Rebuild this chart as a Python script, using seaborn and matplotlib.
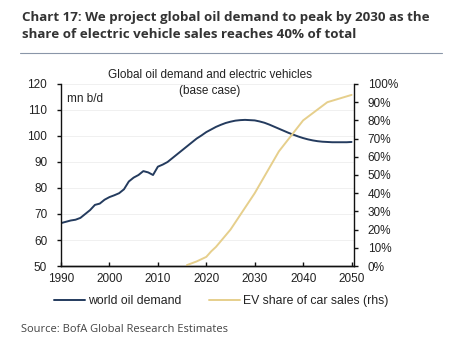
import matplotlib
matplotlib.use("Agg")
import matplotlib.pyplot as plt
import seaborn as sns
import pandas as pd

# world oil demand, mn b/d (1990-2050, yearly)
oil_years = list(range(1990, 2051))
oil_demand = [
    66.5, 67.0, 67.5, 67.8, 68.5, 70.0, 71.5, 73.5, 74.0, 75.5,
    76.5, 77.2, 78.0, 79.5, 82.5, 84.0, 85.0, 86.5, 86.0, 85.0,
    88.2, 89.0, 90.0, 91.5, 93.0, 94.5, 96.0, 97.5, 99.0, 100.2,
    101.5, 102.5, 103.5, 104.3, 105.0, 105.5, 105.9, 106.1, 106.2, 106.1,
    106.0, 105.6, 105.1, 104.4, 103.6, 102.8, 102.0, 101.2, 100.5, 99.8,
    99.2, 98.7, 98.3, 98.0, 97.8, 97.7, 97.6, 97.6, 97.6, 97.6, 97.7,
]

# EV share of car sales, %
ev_years = [2016, 2018, 2020, 2021, 2022, 2025, 2030, 2035, 2040, 2045, 2050]
ev_share = [0.5, 2.5, 5.0, 8.0, 10.5, 20.0, 40.0, 63.0, 80.0, 90.0, 94.0]

x_ticks = [1990, 2000, 2010, 2020, 2030, 2040, 2050]
left_ticks = [50, 60, 70, 80, 90, 100, 110, 120]
right_ticks = [0, 10, 20, 30, 40, 50, 60, 70, 80, 90, 100]

oil_df = pd.DataFrame({"year": oil_years, "demand": oil_demand})
ev_df = pd.DataFrame({"year": ev_years, "share": ev_share})

sns.set_theme(style="white")
plt.rcParams["font.family"] = ["Liberation Sans", "DejaVu Sans"]

navy = "#243b5e"
sand = "#e6cf8c"
text_col = "#222222"

fig = plt.figure(figsize=(4.5, 3.55), dpi=100)
ax = fig.add_axes([0.1356, 0.2507, 0.651, 0.5127])
ax2 = ax.twinx()

sns.lineplot(data=oil_df, x="year", y="demand", ax=ax, color=navy, lw=1.4,
             label="world oil demand", legend=False)
sns.lineplot(data=ev_df, x="year", y="share", ax=ax2, color=sand, lw=1.4,
             label="EV share of car sales (rhs)", legend=False)

ax.set_xlim(1990, 2050.5)
ax.set_ylim(50, 120)
ax2.set_ylim(0, 100)
ax.set_xticks(x_ticks)
ax.set_yticks(left_ticks)
ax2.set_yticks(right_ticks)
ax2.set_yticklabels([f"{v}%" for v in right_ticks])
ax.set_xlabel("")
ax.set_ylabel("")
ax2.set_ylabel("")

for a in (ax, ax2):
    a.spines["top"].set_visible(False)
    for s in ("left", "right", "bottom"):
        a.spines[s].set_color("#111111")
        a.spines[s].set_linewidth(1.0)
ax.spines["right"].set_visible(False)
ax2.spines["left"].set_visible(False)

ax.grid(axis="y", color="#f0f0f0", lw=0.7)
ax.tick_params(axis="y", direction="out", length=3, width=1, pad=7,
               labelsize=8.5, colors="#111111", labelcolor=text_col, left=True)
ax.tick_params(axis="x", direction="in", length=3, width=1, pad=5,
               labelsize=8.5, colors="#111111", labelcolor=text_col, bottom=True)
ax2.tick_params(axis="y", direction="out", length=3, width=1, pad=7,
                labelsize=8.5, colors="#111111", labelcolor=text_col, right=True)

ax.text(0.02, 0.92, "mn b/d", transform=ax.transAxes, fontsize=8.5,
        color=text_col, va="center", ha="left")
fig.text(210 / 450, 1 - 75 / 355, "Global oil demand and electric vehicles",
         fontsize=8.5, color=text_col, ha="center", va="center")
fig.text(210 / 450, 1 - 91 / 355, "(base case)",
         fontsize=8.5, color=text_col, ha="center", va="center")

h1, l1 = ax.get_legend_handles_labels()
h2, l2 = ax2.get_legend_handles_labels()
fig.legend(h1 + h2, l1 + l2, loc="center", bbox_to_anchor=(221 / 450, 1 - 301 / 355),
           ncol=2, frameon=False, fontsize=8.8, handlelength=2.5,
           handletextpad=0.25, columnspacing=2.3, labelcolor=text_col)

title_kw = dict(fontsize=9.6, fontweight="bold", family="Open Sans",
                color="#333333", ha="left", va="center")
fig.text(22 / 450, 1 - 17 / 355,
         "Chart 17: We project global oil demand to peak by 2030 as the", **title_kw)
fig.text(22 / 450, 1 - 35 / 355,
         "share of electric vehicle sales reaches 40% of total", **title_kw)
fig.add_artist(plt.Line2D([20 / 450, 442 / 450], [1 - 53 / 355, 1 - 53 / 355],
                          color="#8a96a8", lw=0.8))
fig.text(21 / 450, 1 - 330 / 355, "Source: BofA Global Research Estimates",
         fontsize=8, family="Open Sans", color="#444444", ha="left", va="center")

fig.savefig("out.png", dpi=100, facecolor="white")
